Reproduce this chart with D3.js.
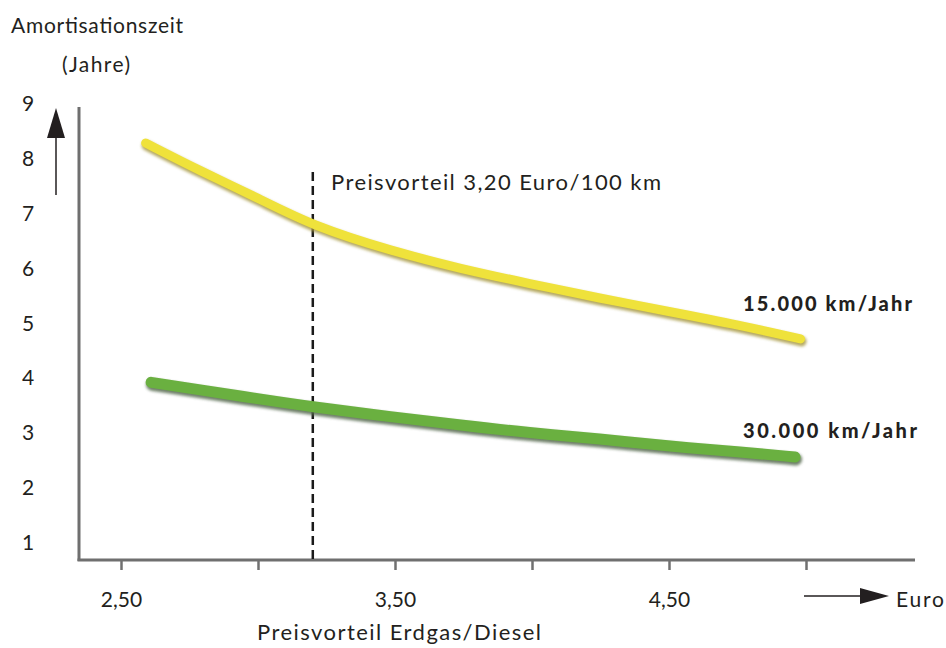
<!DOCTYPE html>
<html><head><meta charset="utf-8">
<script src="https://cdn.jsdelivr.net/npm/d3@7/dist/d3.min.js"></script>
<style>
html,body{margin:0;padding:0;background:#fff;}
svg{display:block;}
text{font-family:"Lato","Noto Sans",sans-serif;fill:#231f20;}
</style></head>
<body>
<svg id="chart" width="946" height="648"></svg>
<script>
// ---- data ----
const yTickValues = [1, 2, 3, 4, 5, 6, 7, 8, 9];
const xTickValues = [2.5, 3.0, 3.5, 4.0, 4.5, 5.0];
const xTickLabels = ["2,50", "", "3,50", "", "4,50", ""];
const yellowEuro  = [2.59, 2.79, 3.00, 3.20, 3.49, 3.74, 3.99, 4.25, 4.49, 4.76, 4.98];
const yellowYears = [8.27, 7.76, 7.27, 6.76, 6.30, 5.98, 5.71, 5.44, 5.21, 4.95, 4.70];
const greenEuro   = [2.61, 2.79, 3.00, 3.20, 3.49, 3.74, 3.99, 4.25, 4.49, 4.76, 4.96];
const greenYears  = [3.91, 3.77, 3.61, 3.46, 3.28, 3.13, 2.99, 2.88, 2.75, 2.64, 2.55];
const markerEuro = 3.20;
const seriesLabels = ["15.000 km/Jahr", "30.000 km/Jahr"];

const svg = d3.select("#chart");
const x = d3.scaleLinear().domain([2.5, 5.0]).range([121, 806]);
const y = d3.scaleLinear().domain([1, 9]).range([542, 103]);

const defs = svg.append("defs");
const f = defs.append("filter").attr("id","blur").attr("x","-10%").attr("y","-50%").attr("width","120%").attr("height","200%");
f.append("feGaussianBlur").attr("stdDeviation", 1.6);
const f2 = defs.append("filter").attr("id","soft").attr("x","-10%").attr("y","-50%").attr("width","120%").attr("height","200%");
f2.append("feGaussianBlur").attr("stdDeviation", 0.6);

// frame axes
const axisY0 = 560, axisX0 = 79;
svg.append("line").attr("x1", axisX0).attr("x2", axisX0).attr("y1", 107).attr("y2", axisY0 + 1)
  .attr("stroke", "#6f6f6f").attr("stroke-width", 3);
svg.append("line").attr("x1", axisX0 - 1.5).attr("x2", 915).attr("y1", axisY0).attr("y2", axisY0)
  .attr("stroke", "#6f6f6f").attr("stroke-width", 3);

// x axis ticks + labels
const xAxis = d3.axisBottom(x).tickValues(xTickValues).tickSize(10)
  .tickFormat((d, i) => xTickLabels[i]);
const gx = svg.append("g").attr("transform", `translate(0,${axisY0})`).call(xAxis);
gx.select(".domain").remove();
gx.selectAll(".tick line").attr("stroke", "#707070").attr("stroke-width", 2.5);
gx.selectAll(".tick text").attr("y", 47).attr("dy", 0)
  .style("font-family", '"Lato","Noto Sans",sans-serif').style("font-size", "21px").attr("fill", "#231f20");

// y axis labels
const yAxis = d3.axisLeft(y).tickValues(yTickValues).tickSize(0).tickFormat(d3.format("d"));
const gy = svg.append("g").attr("transform", `translate(${axisX0},0)`).call(yAxis);
gy.select(".domain").remove();
gy.selectAll(".tick text").attr("x", -51).attr("dy", "0.36em").attr("text-anchor", "middle")
  .style("font-family", '"Lato","Noto Sans",sans-serif').style("font-size", "21px").attr("fill", "#231f20");

// y arrow
svg.append("line").attr("x1", 56).attr("x2", 56).attr("y1", 195).attr("y2", 135)
  .attr("stroke", "#231f20").attr("stroke-width", 1.5);
svg.append("path").attr("d", "M56,108 L65,138 L47,138 Z").attr("fill", "#231f20");

// x arrow
svg.append("line").attr("x1", 804).attr("x2", 864).attr("y1", 596).attr("y2", 596)
  .attr("stroke", "#231f20").attr("stroke-width", 1.5);
svg.append("path").attr("d", "M889,596 L860,588 L860,604 Z").attr("fill", "#231f20");

// dashed marker line
svg.append("line").attr("x1", x(markerEuro)).attr("x2", x(markerEuro)).attr("y1", 172).attr("y2", axisY0)
  .attr("stroke", "#1a1a1a").attr("stroke-width", 2.5).attr("stroke-dasharray", "9,5");

// curves
const line = d3.line().x(d => x(d[0])).y(d => y(d[1])).curve(d3.curveBasis);
const yellow = yellowEuro.map((e, i) => [e, yellowYears[i]]);
const green = greenEuro.map((e, i) => [e, greenYears[i]]);

function drawCurve(data, main, shadow, w) {
  svg.append("path").datum(data).attr("d", line).attr("fill", "none")
    .attr("stroke", shadow).attr("stroke-width", w).attr("stroke-linecap", "round")
    .attr("transform", "translate(1,2.5)").attr("filter", "url(#blur)").attr("opacity", 0.85);
  svg.append("path").datum(data).attr("d", line).attr("fill", "none")
    .attr("stroke", main).attr("stroke-width", w - 1).attr("stroke-linecap", "round")
    .attr("filter", "url(#soft)");
}
drawCurve(green, "#6bb041", "#55694e", 12);
drawCurve(yellow, "#efe23a", "#a89a45", 10);

// texts
svg.append("text").attr("x", 11).attr("y", 33).style("font-size", "21px")
  .attr("textLength", 172).text("Amortisationszeit");
svg.append("text").attr("x", 62).attr("y", 72).style("font-size", "21px")
  .attr("textLength", 68).text("(Jahre)");
svg.append("text").attr("x", 896).attr("y", 607).style("font-size", "21px")
  .attr("textLength", 48).text("Euro");
svg.append("text").attr("x", 257).attr("y", 640).style("font-size", "22px")
  .attr("textLength", 284).text("Preisvorteil Erdgas/Diesel");
svg.append("text").attr("x", 331).attr("y", 190).style("font-size", "22px")
  .attr("textLength", 330).text("Preisvorteil 3,20 Euro/100 km");
svg.append("text").attr("x", 743).attr("y", 311).style("font-size", "20px").style("font-weight", "900")
  .attr("textLength", 169).text(seriesLabels[0]);
svg.append("text").attr("x", 743).attr("y", 438).style("font-size", "20px").style("font-weight", "900")
  .attr("textLength", 174).text(seriesLabels[1]);
</script>
</body></html>
